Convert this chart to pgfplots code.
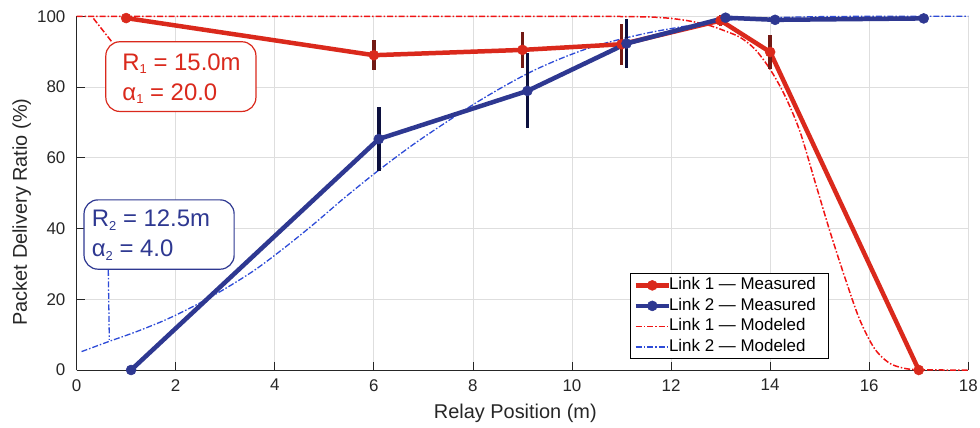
\documentclass[border=0pt]{standalone}
\usepackage{fontspec}
\setmainfont{Liberation Sans}
\usepackage{pgfplots}
\pgfplotsset{compat=1.18}
\definecolor{lonec}{RGB}{218,41,28}
\definecolor{ltwoc}{RGB}{46,56,145}
\definecolor{loneerr}{RGB}{115,26,20}
\definecolor{ltwoerr}{RGB}{12,16,62}
\definecolor{monec}{RGB}{240,20,20}
\definecolor{mtwoc}{RGB}{45,75,215}
\definecolor{gridc}{RGB}{222,222,222}
\definecolor{axisc}{RGB}{38,38,38}
\begin{document}
\begin{tikzpicture}
\begin{axis}[
  scale only axis, width=891.7bp, height=353.7bp,
  xmin=0, xmax=18, ymin=0, ymax=100,
  xtick={0,2,...,18}, ytick={0,20,...,100},
  axis x line=bottom, axis y line=left,
  axis line style={draw=axisc, line width=0.8bp, -},
  tick align=inside, major tick length=8bp,
  tick style={draw=axisc, line width=0.8bp},
  grid=major, major grid style={draw=gridc, line width=0.8bp},
  clip=false,
  /pgf/number format/assume math mode=true,
  tick label style={font=\fontsize{17}{20}\selectfont, text=axisc},
  xticklabel style={inner sep=0pt, anchor=north, yshift=-9bp},
  yticklabel style={inner sep=0pt, anchor=east, xshift=-11bp},
  xlabel={Relay Position (m)}, ylabel={Packet Delivery Ratio (\%)},
  label style={font=\fontsize{20}{24}\selectfont, text=axisc, inner sep=0pt},
  xlabel style={at={(axis description cs:0.492,0)}, anchor=base, yshift=-48bp},
  ylabel style={at={([xshift=-49.6bp]axis description cs:0,0.447)}, anchor=base, rotate=0},
  legend style={at={(rel axis cs:0.843,0.031)}, anchor=south east, draw=black, line width=0.8bp,
    font=\fontsize{17}{20}\selectfont, inner xsep=3bp, inner ysep=1.5bp, row sep=0pt,
    nodes={inner xsep=0bp, inner ysep=2.5bp, text height=12bp, text depth=3.5bp}},
  legend cell align=left,
  legend image code/.code={\path (0bp,0bp) -- (31bp,0bp);\draw[overlay,mark repeat=2,mark phase=2,#1] plot coordinates {(0bp,0bp) (16.5bp,0bp) (33bp,0bp)};},
]
% modeled curves (drawn below the measured ones)
\addplot[forget plot, monec, line width=1.5bp, smooth, tension=0.5, dash pattern=on 6bp off 2bp on 1.5bp off 2bp] coordinates {
(0,100) (3,100) (6,100) (9,100) (10.5,100) (11.2,99.9) (11.6,99.8) (12.0,99.4) (12.4,98.6) (12.8,97.3) (13.1,95.8) (13.4,94.0)
(13.7,90.6) (14.0,85.0) (14.3,77.5) (14.6,67.5) (14.9,53.5) (15.2,39.5) (15.5,26.5)
(15.8,14.5) (16.1,6.2) (16.4,2.0) (16.7,0.5) (17.0,0.05) (17.5,0) (18,0)};
\addplot[forget plot, mtwoc, line width=1.3bp, smooth, tension=0.5, dash pattern=on 6bp off 2bp on 1.5bp off 2bp] coordinates {
(0.1,5.2) (0.64,8.0) (1.2,10.8) (1.8,14.2) (2.4,18.3) (3.0,23.0) (3.6,28.3) (4.2,34.6)
(4.8,41.4) (5.4,48.6) (6.1,56.5) (6.8,63.8) (7.4,69.5) (8.0,75.0) (8.6,80.0) (9.2,84.5)
(9.8,88.2) (10.4,91.3) (11.0,93.6) (11.6,95.5) (12.2,97.0) (12.8,98.3) (13.4,99.2)
(14.0,99.6) (15.0,99.9) (16.0,100) (17,100) (18,100)};
% measured
\addplot[lonec, line width=4.5bp, mark=*, mark size=5bp, mark options={solid, fill=lonec, draw=lonec, line width=0.5bp},
  error bars/.cd, y dir=both, y explicit, error mark=none,
  error bar style={line width=3.5bp, draw=loneerr}]
coordinates {
(1,99.5) +- (0,0.9)
(6,89.0) +- (0,4.2)
(9,90.5) +- (0,5.1)
(11,92.1) +- (0,5.8)
(13,98.8) +- (0,1.5)
(14,89.9) +- (0,4.9)
(17,0) +- (0,0)
};
\addlegendentry{Link 1 — Measured\rule{9bp}{0pt}}
\addplot[ltwoc, line width=4.5bp, mark=*, mark size=5bp, mark options={solid, fill=ltwoc, draw=ltwoc, line width=0.5bp},
  error bars/.cd, y dir=both, y explicit, error mark=none,
  error bar style={line width=3.5bp, draw=ltwoerr}]
coordinates {
(1.1,0) +- (0,0)
(6.1,65.3) +- (0,9.0)
(9.1,78.9) +- (0,10.6)
(11.1,92.3) +- (0,7.0)
(13.1,99.6) +- (0,1.3)
(14.1,99.0) +- (0,1.0)
(17.1,99.4) +- (0,0.8)
};
\addlegendentry{Link 2 — Measured\rule{9bp}{0pt}}
\addlegendimage{monec, line width=1.5bp, dash pattern=on 6bp off 2bp on 1.5bp off 2bp}
\addlegendentry{Link 1 — Modeled}
\addlegendimage{mtwoc, line width=1.3bp, dash pattern=on 6bp off 2bp on 1.5bp off 2bp}
\addlegendentry{Link 2 — Modeled}
% annotations
\draw[monec, line width=1.5bp, dash pattern=on 6bp off 2bp on 1.5bp off 2bp] (axis cs:0.34,99.4) -- (axis cs:0.71,92.8);
\draw[mtwoc, line width=1.3bp, dash pattern=on 6bp off 2bp on 1.5bp off 2bp] (axis cs:0.64,28.3) -- (axis cs:0.66,8.5);
\draw[rounded corners=14bp, fill=white, draw=lonec, line width=1.2bp] (axis cs:0.59,92.8) rectangle (axis cs:3.62,73.1);
\node[anchor=base west, inner sep=0pt, text=lonec, font=\fontsize{24}{28}\selectfont] at (axis cs:0.922,84.8) {R\raisebox{-3.5bp}{\fontsize{13}{13}\selectfont 1} = 15.0m};
\node[anchor=base west, inner sep=0pt, text=lonec, font=\fontsize{24}{28}\selectfont] at (axis cs:0.922,76.3) {α\raisebox{-3.5bp}{\fontsize{13}{13}\selectfont 1} = 20.0};
\draw[rounded corners=14bp, fill=white, draw=ltwoc, line width=1.2bp] (axis cs:0.15,48.1) rectangle (axis cs:3.18,28.5);
\node[anchor=base west, inner sep=0pt, text=ltwoc, font=\fontsize{24}{28}\selectfont] at (axis cs:0.305,40.5) {R\raisebox{-3.5bp}{\fontsize{13}{13}\selectfont 2} = 12.5m};
\node[anchor=base west, inner sep=0pt, text=ltwoc, font=\fontsize{24}{28}\selectfont] at (axis cs:0.305,32.0) {α\raisebox{-3.5bp}{\fontsize{13}{13}\selectfont 2} = 4.0};
\end{axis}
\pgfresetboundingbox
\path[use as bounding box] ([shift={(-76.6bp,-58bp)}]current axis.south west) rectangle ([shift={(11.7bp,16.3bp)}]current axis.north east);
\end{tikzpicture}
\end{document}
